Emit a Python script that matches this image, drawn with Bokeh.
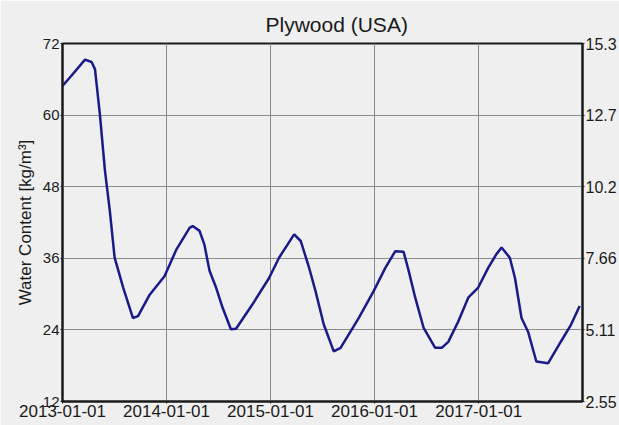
import pandas as pd
from bokeh.plotting import figure
from bokeh.models import Range1d, LinearAxis, FixedTicker, DatetimeTickFormatter, ColumnDataSource
from bokeh.embed import file_html
from bokeh.resources import INLINE

dates = ["2013-01-01", "2013-01-27", "2013-03-21", "2013-04-13", "2013-04-25", "2013-05-12", "2013-05-30",
         "2013-06-16", "2013-07-03", "2013-08-02", "2013-09-05", "2013-09-23", "2013-11-03", "2013-12-25",
         "2014-02-05", "2014-03-23", "2014-04-03", "2014-04-27", "2014-05-14", "2014-06-01", "2014-06-24",
         "2014-07-17", "2014-08-15", "2014-09-02", "2014-10-30", "2014-12-27",
         "2015-01-31", "2015-03-25", "2015-04-17", "2015-05-16", "2015-06-08", "2015-07-07", "2015-08-11",
         "2015-09-04", "2015-11-07", "2015-12-29",
         "2016-02-08", "2016-03-14", "2016-04-12", "2016-04-30", "2016-05-23", "2016-06-21", "2016-08-01",
         "2016-08-24", "2016-09-16", "2016-10-21", "2016-11-25", "2016-12-30",
         "2017-02-03", "2017-03-04", "2017-03-22", "2017-04-20", "2017-05-08", "2017-05-31", "2017-06-23",
         "2017-07-22", "2017-09-01", "2017-10-17", "2017-11-21", "2017-12-21"]
water_content = [64.9, 66.3, 69.3, 68.9, 67.7, 60.2, 50.7, 44.0, 36.1, 31.1, 26.0, 26.3, 29.9, 33.0,
                 37.5, 41.1, 41.4, 40.6, 38.3, 33.9, 31.1, 27.7, 24.1, 24.2, 28.3, 32.7,
                 36.1, 40.0, 38.9, 34.5, 30.5, 24.9, 20.4, 21.0, 26.0, 30.5,
                 34.4, 37.2, 37.1, 33.9, 29.4, 24.4, 21.0, 21.0, 22.0, 25.4, 29.4, 31.1,
                 34.4, 36.7, 37.8, 36.1, 32.7, 26.0, 23.7, 18.7, 18.4, 22.1, 24.9, 28.0]
x_tick_dates = ["2013-01-01", "2014-01-01", "2015-01-01", "2016-01-01", "2017-01-01"]
x_end = "2017-12-31"
left_ticks = [12, 24, 36, 48, 60, 72]
right_tick_labels = ["2.55", "5.11", "7.66", "10.2", "12.7", "15.3"]

FONT = "Liberation Sans"
TXT = "#1a1a1a"
BG = "#efefef"

src = ColumnDataSource(dict(x=pd.to_datetime(dates), y=water_content))

p = figure(width=619, height=425, output_backend="svg", toolbar_location=None,
           x_axis_type="datetime",
           x_range=Range1d(pd.Timestamp(x_tick_dates[0]), pd.Timestamp(x_end)),
           y_range=Range1d(left_ticks[0], left_ticks[-1]),
           min_border_left=62, min_border_right=36, min_border_top=43, min_border_bottom=24)

p.background_fill_color = BG
p.border_fill_color = BG
p.outline_line_color = "#1a1a1a"
p.outline_line_width = 2

p.title.text = "Plywood (USA)"
p.title.align = "left"
p.title.offset = 203
p.title.standoff = 16
p.title.text_font = FONT
p.title.text_font_size = "21px"
p.title.text_font_style = "normal"
p.title.text_color = TXT

p.line("x", "y", source=src, line_color="#1a1a88", line_width=2.5)

x_ms = [pd.Timestamp(t).timestamp() * 1000 for t in x_tick_dates]
p.xaxis.ticker = FixedTicker(ticks=x_ms)
fmt = "%Y-%m-%d"
p.xaxis.formatter = DatetimeTickFormatter(milliseconds=fmt, seconds=fmt, minsec=fmt, minutes=fmt,
                                          hourmin=fmt, hours=fmt, days=fmt, months=fmt, years=fmt)
p.yaxis.ticker = FixedTicker(ticks=left_ticks)
p.yaxis.axis_label = "Water Content [kg/m³]"

p.extra_y_ranges = {"right": Range1d(left_ticks[0], left_ticks[-1])}
raxis = LinearAxis(y_range_name="right", ticker=FixedTicker(ticks=left_ticks),
                   major_label_overrides={t: l for t, l in zip(left_ticks, right_tick_labels)})
p.add_layout(raxis, "right")

for ax in [p.xaxis[0], p.yaxis[0], raxis]:
    ax.axis_line_color = "#1a1a1a"
    ax.axis_line_width = 2
    ax.major_tick_line_color = "#1a1a1a"
    ax.major_tick_in = 0
    ax.major_tick_out = 2
    ax.minor_tick_line_color = None
    ax.major_label_text_font = FONT
    ax.major_label_text_color = TXT
    ax.major_label_standoff = 1

p.xaxis.major_label_text_font_size = "17px"
p.yaxis[0].major_label_text_font_size = "15px"
raxis.major_label_text_font_size = "16px"
p.yaxis[0].axis_label_text_font = FONT
p.yaxis[0].axis_label_text_font_size = "17px"
p.yaxis[0].axis_label_text_font_style = "normal"
p.yaxis[0].axis_label_text_color = TXT
p.yaxis[0].axis_label_standoff = 5

p.xgrid.ticker = FixedTicker(ticks=x_ms)
p.ygrid.ticker = FixedTicker(ticks=left_ticks)
p.grid.grid_line_color = "#8c8c8c"
p.grid.grid_line_width = 1

open("out.html", "w").write(file_html(p, INLINE))
